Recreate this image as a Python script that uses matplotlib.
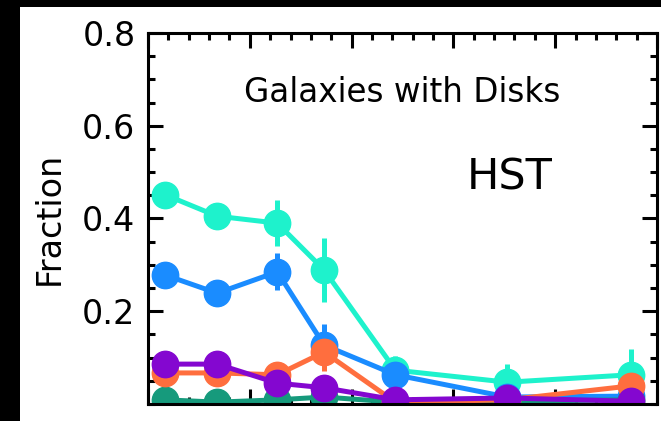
import numpy as np
import matplotlib.pyplot as plt
from matplotlib.ticker import MultipleLocator

# bin centres (arbitrary x units, tick labels are not shown in the panel)
x_bins = [0.17, 0.68, 1.27, 1.73, 2.43, 3.53, 4.74]

cyan_y   = [0.451, 0.405, 0.390, 0.289, 0.073, 0.047, 0.063]
cyan_e   = [0.010, 0.025, 0.050, 0.070, 0.030, 0.040, 0.055]
blue_y   = [0.278, 0.239, 0.285, 0.127, 0.063, 0.015, 0.017]
blue_e   = [0.010, 0.025, 0.040, 0.045, 0.020, 0.010, 0.010]
green_y  = [0.009, 0.004, 0.009, 0.015, 0.004, 0.006, 0.009]
green_e  = [0.005, 0.005, 0.005, 0.005, 0.005, 0.005, 0.010]
orange_y = [0.067, 0.067, 0.063, 0.112, 0.004, 0.009, 0.039]
orange_e = [0.010, 0.010, 0.015, 0.040, 0.005, 0.005, 0.015]
purple_y = [0.086, 0.086, 0.045, 0.035, 0.009, 0.013, 0.006]
purple_e = [0.010, 0.010, 0.010, 0.010, 0.005, 0.005, 0.005]

SERIES = [
    (cyan_y, cyan_e, '#1ef2cc'),
    (blue_y, blue_e, '#1a8cff'),
    (green_y, green_e, '#169a7c'),
    (orange_y, orange_e, '#ff6e3e'),
    (purple_y, purple_e, '#8407d0'),
]

W, H = 661, 421
fig = plt.figure(figsize=(W / 100, H / 100), dpi=100, facecolor='white')


def band(rect, color):
    b = fig.add_axes(rect)
    b.set_facecolor(color)
    for s in b.spines.values():
        s.set_visible(False)
    b.set_xticks([])
    b.set_yticks([])
    return b


# black frame left over from the crop
band([0, 0, 20 / W, 1], 'black')
band([0, 1 - 7 / H, 1, 7 / H], 'black')

ax = fig.add_axes([148 / W, 17 / H, 509 / W, 371 / H])

for y, e, c in SERIES:
    ax.errorbar(x_bins, y, yerr=e, color=c, marker='o', markersize=19,
                linewidth=3.6, elinewidth=3.6, capsize=0)

ax.set_xlim(0, 5)
ax.set_ylim(0, 0.8)
ax.set_yticks([0.2, 0.4, 0.6, 0.8])
ax.set_yticklabels(['0.2', '0.4', '0.6', '0.8'])
ax.xaxis.set_major_locator(MultipleLocator(1))
ax.xaxis.set_minor_locator(MultipleLocator(0.2))
ax.yaxis.set_minor_locator(MultipleLocator(0.05))
ax.tick_params(axis='x', which='both', labelbottom=False)

for s in ax.spines.values():
    s.set_linewidth(2.2)
ax.tick_params(which='both', direction='in', top=True, right=True, width=2.2)
ax.tick_params(which='major', length=11, labelsize=24, pad=9)
ax.tick_params(which='minor', length=5)
ax.set_ylabel('Fraction', fontsize=24, labelpad=12)

ax.text(0.5, 0.84, 'Galaxies with Disks', transform=ax.transAxes,
        ha='center', va='center', fontsize=23.5)
ax.text(0.71, 0.61, 'HST', transform=ax.transAxes, ha='center', va='center',
        fontsize=31, family='Liberation Sans Narrow')

fig.savefig('out.png', dpi=100, facecolor='white')
